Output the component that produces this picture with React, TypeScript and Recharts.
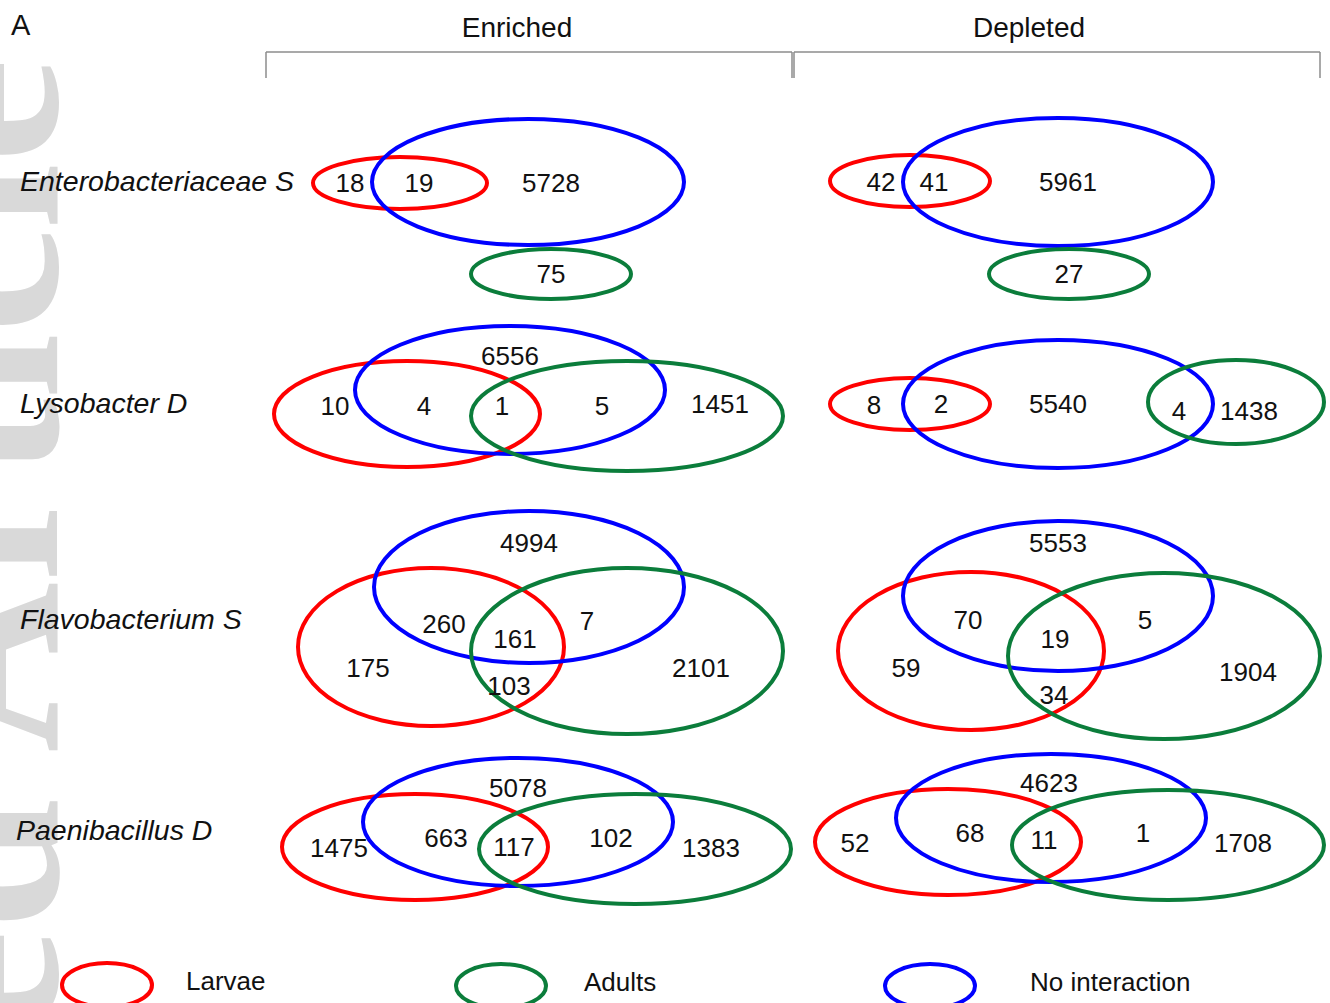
import React from 'react';
import { ScatterChart, Scatter, XAxis, YAxis, ReferenceLine, Customized } from 'recharts';

const W = 1330;
const H = 1003;

// ---- data ----
const setNames = ['Larvae', 'Adults', 'No interaction'];
const rowNames = ['Enterobacteriaceae S', 'Lysobacter D', 'Flavobacterium S', 'Paenibacillus D'];
const columnNames = ['Enriched', 'Depleted'];

// region counts for each panel (row, then column)
const enteroEnriched = [18, 19, 5728, 75];
const enteroDepleted = [42, 41, 5961, 27];
const lysoEnriched = [6556, 10, 4, 1, 5, 1451];
const lysoDepleted = [8, 2, 5540, 4, 1438];
const flavoEnriched = [4994, 260, 161, 7, 175, 103, 2101];
const flavoDepleted = [5553, 70, 19, 5, 59, 34, 1904];
const paeniEnriched = [5078, 1475, 663, 117, 102, 1383];
const paeniDepleted = [4623, 52, 68, 11, 1, 1708];

const panelCounts = [
  enteroEnriched, enteroDepleted,
  lysoEnriched, lysoDepleted,
  flavoEnriched, flavoDepleted,
  paeniEnriched, paeniDepleted,
];

// ---- layout (chart units == pixels of the 1330x1003 figure) ----
const colors: Record<string, string> = {
  Larvae: '#ff0000',
  Adults: '#0b7d3b',
  'No interaction': '#0000ff',
};

// [set index, cx, cy, rx, ry]
const panelEllipses: number[][][] = [
  [[0, 400, 183, 87, 26], [2, 528, 182, 156, 63], [1, 551, 274, 80, 25]],
  [[0, 910, 181, 80, 26], [2, 1058, 182, 155, 64], [1, 1069, 274, 80, 25]],
  [[0, 407, 414, 133, 53], [2, 510, 390, 155, 64], [1, 627, 416, 156, 55]],
  [[0, 910, 404, 80, 26], [2, 1058, 404, 155, 64], [1, 1236, 402, 88, 42]],
  [[0, 431, 647, 133, 79], [2, 529, 587, 155, 76], [1, 627, 651, 156, 83]],
  [[0, 971, 651, 133, 79], [2, 1058, 596, 155, 75], [1, 1164, 656, 156, 83]],
  [[0, 415, 847, 133, 53], [2, 518, 822, 155, 64], [1, 635, 849, 156, 55]],
  [[0, 948, 842, 133, 53], [2, 1051, 818, 155, 64], [1, 1168, 845, 156, 55]],
];

const panelLabelAt: number[][][] = [
  [[350, 183], [419, 183], [551, 183], [551, 274]],
  [[881, 182], [934, 182], [1068, 182], [1069, 274]],
  [[510, 356], [335, 406], [424, 406], [502, 406], [602, 406], [720, 404]],
  [[874, 405], [941, 404], [1058, 404], [1179, 411], [1249, 411]],
  [[529, 543], [444, 624], [515, 639], [587, 621], [368, 668], [509, 686], [701, 668]],
  [[1058, 543], [968, 620], [1055, 639], [1145, 620], [906, 668], [1054, 695], [1248, 672]],
  [[518, 788], [339, 848], [446, 838], [514, 847], [611, 838], [711, 848]],
  [[1049, 783], [855, 843], [970, 833], [1044, 840], [1143, 833], [1243, 843]],
];

const rowLabelAt = [[20, 181], [20, 403], [20, 619], [16, 830]];
const columnLabelAt = [[517, 27], [1029, 27]];
const legendAt = [[107, 985], [501, 986], [930, 986]];
const legendTextX = [186, 584, 1030];

const FONT = "'Liberation Sans', Arial, sans-serif";

const ellipseData = panelEllipses.flat().map(([s, x, y, rx, ry]) => ({
  x, y, rx, ry, color: colors[setNames[s]],
}));
const countData = panelCounts.flatMap((counts, p) =>
  counts.map((v, i) => ({ x: panelLabelAt[p][i][0], y: panelLabelAt[p][i][1], text: String(v) })),
);
const rowData = rowNames.map((name, i) => ({ x: rowLabelAt[i][0], y: rowLabelAt[i][1], text: name }));
const colData = columnNames.map((name, i) => ({ x: columnLabelAt[i][0], y: columnLabelAt[i][1], text: name }));
const legendData = setNames.map((name, i) => ({
  x: legendAt[i][0], y: legendAt[i][1], tx: legendTextX[i], text: name, color: colors[name],
}));

const EllipseShape = (props: any) => {
  const { cx, cy, payload } = props;
  return (
    <ellipse cx={cx} cy={cy} rx={payload.rx} ry={payload.ry}
      fill="none" stroke={payload.color} strokeWidth={4} />
  );
};

const CountShape = (props: any) => (
  <text x={props.cx} y={props.cy} dy="0.36em" textAnchor="middle"
    fontFamily={FONT} fontSize={26} fill="#111">{props.payload.text}</text>
);

const RowShape = (props: any) => (
  <text x={props.cx} y={props.cy} dy="0.36em" textAnchor="start"
    fontFamily={FONT} fontSize={28.5} fontStyle="italic" fill="#111">{props.payload.text}</text>
);

const ColShape = (props: any) => (
  <text x={props.cx} y={props.cy} dy="0.36em" textAnchor="middle"
    fontFamily={FONT} fontSize={28} fill="#111">{props.payload.text}</text>
);

const LegendShape = (props: any) => {
  const { cx, cy, payload } = props;
  return (
    <g>
      <ellipse cx={cx} cy={cy} rx={45} ry={22} fill="none" stroke={payload.color} strokeWidth={4} />
      <text x={payload.tx} y={cy - 4} dy="0.36em" fontFamily={FONT} fontSize={26} fill="#111">
        {payload.text}
      </text>
    </g>
  );
};

// faint journal watermark, clipped at the left edge
const Background = () => (
  <g>
    <text transform="translate(57, 58) rotate(-90)" textAnchor="end"
      fontFamily="'Liberation Serif', 'Times New Roman', serif" fontWeight="bold"
      fontSize={236} fill="#d9d9d9">
      Accepted Article
    </text>
    <text x={11} y={35} fontFamily={FONT} fontSize={29} fill="#111">A</text>
  </g>
);

const bracket = { stroke: '#8c8c8c', strokeWidth: 1.5 };

export default function App() {
  return (
    <div style={{ position: 'absolute', left: 0, top: 0, background: '#fff' }}>
      <ScatterChart width={W} height={H} margin={{ top: 0, right: 0, bottom: 0, left: 0 }}>
        <XAxis type="number" dataKey="x" domain={[0, W]} hide allowDataOverflow />
        <YAxis type="number" dataKey="y" domain={[0, H]} reversed hide allowDataOverflow />
        <Customized component={Background} />
        <ReferenceLine segment={[{ x: 266, y: 52 }, { x: 792, y: 52 }]} {...bracket} />
        <ReferenceLine segment={[{ x: 266, y: 52 }, { x: 266, y: 78 }]} {...bracket} />
        <ReferenceLine segment={[{ x: 792, y: 52 }, { x: 792, y: 78 }]} {...bracket} />
        <ReferenceLine segment={[{ x: 794, y: 52 }, { x: 1320, y: 52 }]} {...bracket} />
        <ReferenceLine segment={[{ x: 794, y: 52 }, { x: 794, y: 78 }]} {...bracket} />
        <ReferenceLine segment={[{ x: 1320, y: 52 }, { x: 1320, y: 78 }]} {...bracket} />
        <Scatter data={colData} shape={ColShape} isAnimationActive={false} />
        <Scatter data={rowData} shape={RowShape} isAnimationActive={false} />
        <Scatter data={ellipseData} shape={EllipseShape} isAnimationActive={false} />
        <Scatter data={countData} shape={CountShape} isAnimationActive={false} />
        <Scatter data={legendData} shape={LegendShape} isAnimationActive={false} />
      </ScatterChart>
    </div>
  );
}
